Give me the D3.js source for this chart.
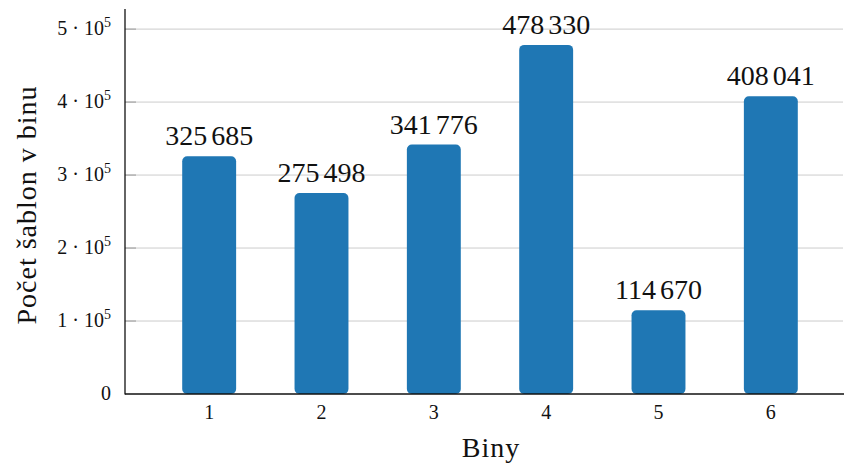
<!DOCTYPE html>
<html>
<head>
<meta charset="utf-8">
<script src="https://cdn.jsdelivr.net/npm/d3@7"></script>
<style>
  body { margin: 0; background: #fff; }
</style>
</head>
<body>
<div id="chart"></div>
<script>
// data
var biny = ["1", "2", "3", "4", "5", "6"];
var pocty = [325685, 275498, 341776, 478330, 114670, 408041];
var yTicks = [0, 100000, 200000, 300000, 400000, 500000];

var W = 844, H = 464;
var mLeft = 125, mRight = 843, mTop = 10, mBottom = 394;

var svg = d3.select("#chart").append("svg")
  .attr("width", W).attr("height", H)
  .style("font-family", "'Liberation Serif', serif")
  .attr("fill", "#111");

var y = d3.scaleLinear()
  .domain([0, d3.max(pocty) * 1.1])
  .range([mBottom, mTop]);

var x = d3.scaleBand()
  .domain(biny)
  .range([153, 827])
  .paddingInner(0.52)
  .paddingOuter(0.26);

// mrizka
var gridTicks = yTicks.filter(function(d){ return d > 0; });
svg.selectAll("line.grid").data(gridTicks)
  .enter().append("line")
  .attr("class", "grid")
  .attr("x1", mLeft).attr("x2", mRight)
  .attr("y1", function(d){ return y(d); }).attr("y2", function(d){ return y(d); })
  .attr("stroke", "#cccccc").attr("stroke-width", 1);
svg.selectAll("line.tick").data(gridTicks)
  .enter().append("line")
  .attr("class", "tick")
  .attr("x1", mLeft).attr("x2", mLeft + 11)
  .attr("y1", function(d){ return y(d); }).attr("y2", function(d){ return y(d); })
  .attr("stroke", "#999").attr("stroke-width", 1);

// sloupce
svg.selectAll("rect.bar").data(pocty).enter().append("rect")
  .attr("class", "bar")
  .attr("x", function(d, i){ return x(biny[i]); })
  .attr("y", function(d){ return y(d); })
  .attr("width", x.bandwidth())
  .attr("height", function(d){ return mBottom - y(d); })
  .attr("rx", 5).attr("ry", 5)
  .attr("fill", "#1f77b4");

// hodnoty nad sloupci (tisice oddelene uzkou mezerou)
pocty.forEach(function(v, i){
  var s = String(v);
  var t = svg.append("text")
    .attr("x", x(biny[i]) + x.bandwidth() / 2)
    .attr("y", y(v) - 11)
    .attr("text-anchor", "middle")
    .attr("font-size", 28);
  t.append("tspan").text(s.slice(0, s.length - 3));
  t.append("tspan").attr("dx", 4).text(s.slice(s.length - 3));
});

// osy
svg.append("line").attr("x1", mLeft).attr("x2", mLeft)
  .attr("y1", mTop - 1).attr("y2", mBottom + 0.5)
  .attr("stroke", "#111").attr("stroke-width", 1.3);
svg.append("line").attr("x1", mLeft).attr("x2", mRight + 1)
  .attr("y1", mBottom).attr("y2", mBottom)
  .attr("stroke", "#111").attr("stroke-width", 1.3);

// popisky osy y
yTicks.forEach(function(d){
  var t = svg.append("text")
    .attr("x", 111).attr("y", y(d) + 6)
    .attr("text-anchor", "end")
    .attr("font-size", 20);
  if (d === 0) { t.text("0"); return; }
  t.append("tspan").text(d / 100000);
  t.append("tspan").attr("dx", 5).text("\u00b7");
  t.append("tspan").attr("dx", 5).text("10");
  t.append("tspan").attr("font-size", 14).attr("dy", -8).text("5");
});

// popisky osy x
biny.forEach(function(b){
  svg.append("text")
    .attr("x", x(b) + x.bandwidth() / 2).attr("y", 419)
    .attr("text-anchor", "middle")
    .attr("font-size", 20)
    .text(b);
});

// nazvy os
svg.append("text")
  .attr("x", 491).attr("y", 457)
  .attr("text-anchor", "middle")
  .attr("font-size", 28)
  .attr("letter-spacing", 1)
  .text("Biny");
svg.append("text")
  .attr("transform", "translate(36,205) rotate(-90)")
  .attr("text-anchor", "middle")
  .attr("font-size", 28)
  .attr("letter-spacing", 1)
  .text("Počet šablon v binu");
</script>
</body>
</html>
